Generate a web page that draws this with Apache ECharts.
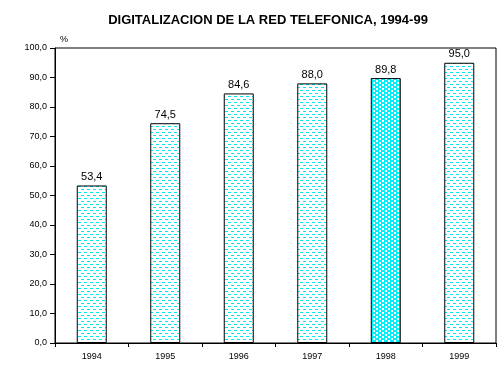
<!DOCTYPE html>
<html>
<head>
<meta charset="utf-8">
<script src="https://cdn.jsdelivr.net/npm/echarts@6/dist/echarts.min.js"></script>
<style>
html,body{margin:0;padding:0;background:#fff;}
#c{width:501px;height:385px;}
</style>
</head>
<body>
<div id="c"></div>
<script>
var categories = ['1994', '1995', '1996', '1997', '1998', '1999'];
var values = [53.4, 74.5, 84.6, 88.0, 89.8, 95.0];
var yTicks = [0, 10, 20, 30, 40, 50, 60, 70, 80, 90, 100];
var highlightIndex = 4;

function makePattern(dense) {
  var c = document.createElement('canvas');
  var ctx = c.getContext('2d');
  if (!dense) {
    c.width = 6; c.height = 6;
    ctx.fillStyle = '#ffffff'; ctx.fillRect(0, 0, 6, 6);
    ctx.fillStyle = '#00e8f0';
    ctx.fillRect(0, 0, 3, 1);
    ctx.fillRect(3, 3, 3, 1);
  } else {
    c.width = 6; c.height = 4;
    ctx.fillStyle = '#ffffff'; ctx.fillRect(0, 0, 6, 4);
    ctx.fillStyle = '#00f0f8';
    ctx.fillRect(0, 0, 4, 1);
    ctx.fillRect(0, 1, 4, 1);
    ctx.fillRect(3, 2, 3, 1);
    ctx.fillRect(0, 2, 1, 1);
    ctx.fillRect(3, 3, 3, 1);
    ctx.fillRect(0, 3, 1, 1);
  }
  return c;
}
var patNormal = makePattern(false);
var patDense = makePattern(true);

function fmt(v) { return v.toFixed(1).replace('.', ','); }

var chart = echarts.init(document.getElementById('c'), null, {renderer: 'canvas'});
chart.setOption({
  animation: false,
  backgroundColor: '#ffffff',
  textStyle: {fontFamily: 'Liberation Sans, Arial, sans-serif'},
  title: {
    text: 'DIGITALIZACION DE LA RED TELEFONICA, 1994-99',
    left: 263, textAlign: 'center', top: 9,
    textStyle: {fontSize: 13, fontWeight: 'bold', color: '#000', fontFamily: 'Liberation Sans, Arial, sans-serif'}
  },
  grid: {
    left: 55, right: 5, top: 48, bottom: 42,
    show: true, borderColor: '#000', borderWidth: 1, backgroundColor: 'transparent'
  },
  xAxis: {
    type: 'category',
    data: categories,
    axisLine: {lineStyle: {color: '#000', width: 1}},
    axisTick: {show: true, length: 4, alignWithLabel: false, lineStyle: {color: '#000'}},
    axisLabel: {color: '#000', fontSize: 9, margin: 9},
    splitLine: {show: false}
  },
  yAxis: {
    type: 'value',
    min: 0, max: 100, interval: 10,
    name: '%',
    nameLocation: 'end',
    nameGap: 4,
    nameTextStyle: {color: '#000', fontSize: 9, align: 'left', padding: [0, 0, 0, 5]},
    axisLine: {show: true, lineStyle: {color: '#000', width: 1}},
    axisTick: {show: true, length: 5, lineStyle: {color: '#000'}},
    axisLabel: {color: '#000', fontSize: 9, margin: 8, formatter: function (v) { return fmt(v); }},
    splitLine: {show: false}
  },
  series: [{
    type: 'bar',
    barWidth: 30,
    data: values.map(function (v, i) {
      return {
        value: v,
        itemStyle: {
          color: {image: i === highlightIndex ? patDense : patNormal, repeat: 'repeat'},
          borderColor: '#000', borderWidth: 1
        }
      };
    }),
    label: {
      show: true, position: 'top', distance: 3,
      color: '#000', fontSize: 11,
      formatter: function (p) { return fmt(p.value); }
    }
  }]
});
</script>
</body>
</html>
